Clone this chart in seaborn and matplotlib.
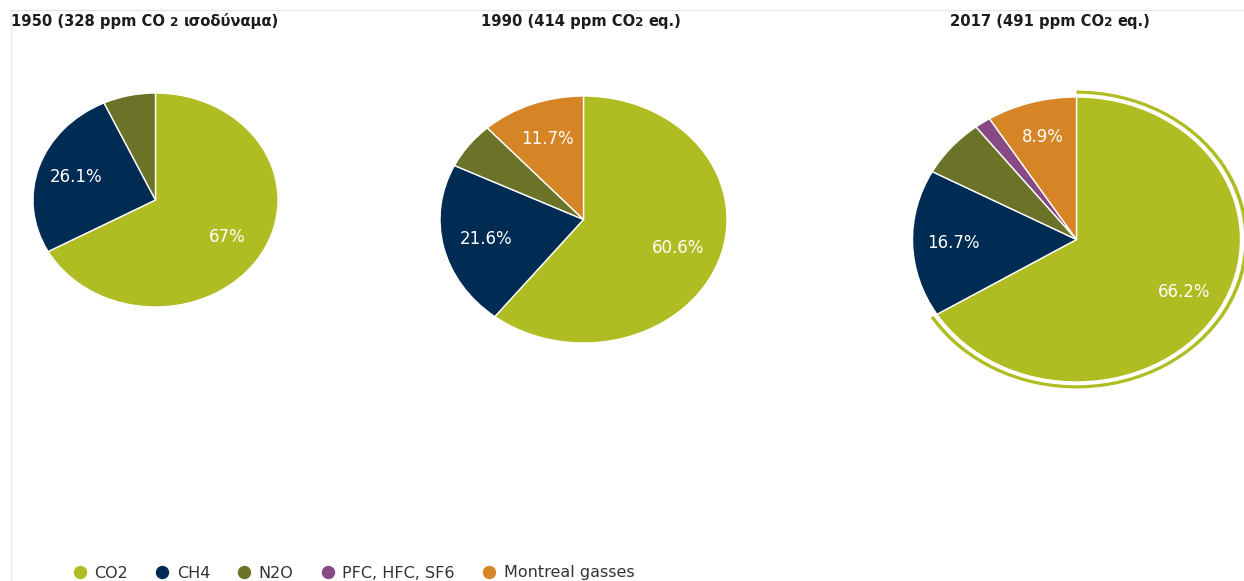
import matplotlib
matplotlib.use("Agg")
import matplotlib.pyplot as plt
import seaborn as sns
from matplotlib.patches import Wedge
from matplotlib.lines import Line2D

# --- data -------------------------------------------------------------
gases = ["CO2", "CH4", "N2O", "PFC, HFC, SF6", "Montreal gasses"]
gas_colors = ["#afbd22", "#002c54", "#6b7328", "#874a84", "#d68526"]

share_1950 = [67.0, 26.1, 6.9, 0.0, 0.0]
share_1990 = [60.6, 21.6, 6.1, 0.0, 11.7]
share_2017 = [66.2, 16.7, 6.6, 1.6, 8.9]

# slices at or above this share carry a percentage label
label_min_share = 8.0

title_1950 = [("1950 (328 ppm CO ", 1.0), ("2", 0.82), (" ισοδύναμα)", 1.0)]
title_1990 = [("1990 (414 ppm CO", 1.0), ("2", 0.82), (" eq.)", 1.0)]
title_2017 = [("2017 (491 ppm CO", 1.0), ("2", 0.82), (" eq.)", 1.0)]

# --- style ------------------------------------------------------------
sns.set_theme(style="white")
plt.rcParams["font.family"] = ["DejaVu Sans"]
palette = sns.color_palette(gas_colors)

W, H = 1244, 581
fig = plt.figure(figsize=(W / 100, H / 100), dpi=100)
fig.patch.set_facecolor("white")

# thin frame lines of the chart panel
fig.add_artist(Line2D([10 / W, 1.0], [1 - 10 / H, 1 - 10 / H], color="#e6e6e6", lw=1))
fig.add_artist(Line2D([10.5 / W, 10.5 / W], [0.0, 1 - 10 / H], color="#e6e6e6", lw=1))


def pie_axes(cx, cy, rx, ry, pad=1.1):
    """Axes whose unit circle maps to an ellipse centred at (cx, cy) px."""
    ax = fig.add_axes([(cx - rx * pad) / W, (H - (cy + ry * pad)) / H,
                       2 * rx * pad / W, 2 * ry * pad / H])
    return ax


def draw_pie(ax, shares, label_dist, pad=1.1, halo=False):
    vals, cols, labs = [], [], []
    for v, c in zip(shares, palette):
        if v > 0:
            vals.append(v)
            cols.append(c)
            labs.append(f"{v:g}%" if v >= label_min_share else "")
    wedges, texts = ax.pie(
        vals, colors=cols, startangle=90, counterclock=False, radius=1.0,
        labels=labs, labeldistance=label_dist,
        wedgeprops=dict(edgecolor="white", linewidth=1.0),
        textprops=dict(color="white", fontsize=12),
    )
    for t in texts:
        t.set_ha("center")
        t.set_va("center")
    if halo:
        w0 = wedges[0]
        ax.add_patch(Wedge((0, 0), 1.045, w0.theta1, w0.theta2, width=0.022,
                           facecolor=cols[0], edgecolor="none"))
    ax.set_aspect("auto")
    ax.set_xlim(-pad, pad)
    ax.set_ylim(-pad, pad)
    ax.axis("off")


draw_pie(pie_axes(155.5, 200, 122.5, 107), share_1950, 0.68)
draw_pie(pie_axes(583.5, 219.5, 143.5, 123.5), share_1990, 0.70)
draw_pie(pie_axes(1076.5, 239.5, 164, 142.5), share_2017, 0.75, halo=True)

# --- titles with a smaller "2" -----------------------------------------
renderer = fig.canvas.get_renderer()
TITLE_FONT = dict(fontweight="bold", family=["DejaVu Sans"])


def text_advance(s, size):
    """Horizontal advance of a string, spaces included."""
    def width(txt):
        t = fig.text(0, 0, txt, fontsize=size, **TITLE_FONT)
        w = t.get_window_extent(renderer).width
        t.remove()
        return w
    return width("|" + s + "|") - width("||")


def draw_title(parts, x_px, base_px, size=10.6):
    x = x_px
    for s, scale in parts:
        fs = size * scale
        lead = len(s) - len(s.lstrip(" "))
        x_draw = x + (text_advance(" " * lead, fs) if lead else 0.0)
        fig.text(x_draw / W, 1 - base_px / H, s.strip(" "), fontsize=fs,
                 color="#1c1c1c", ha="left", va="baseline", **TITLE_FONT)
        x += text_advance(s, fs)


draw_title(title_1950, 11, 26)
draw_title(title_1990, 481, 26)
draw_title(title_2017, 950, 26)

# --- legend -------------------------------------------------------------
handles = [Line2D([], [], marker="o", ls="", markersize=8.6,
                  markerfacecolor=c, markeredgecolor=c, label=g)
           for g, c in zip(gases, palette)]
fig.legend(handles=handles, loc="center left", bbox_to_anchor=(73.5 / W, 1 - 573 / H),
           ncol=5, frameon=False, fontsize=11.5, handlelength=0.8,
           handletextpad=0.5, columnspacing=1.75, borderaxespad=0, borderpad=0,
           labelcolor="#333333")

fig.savefig("out.png", dpi=100, facecolor="white")
